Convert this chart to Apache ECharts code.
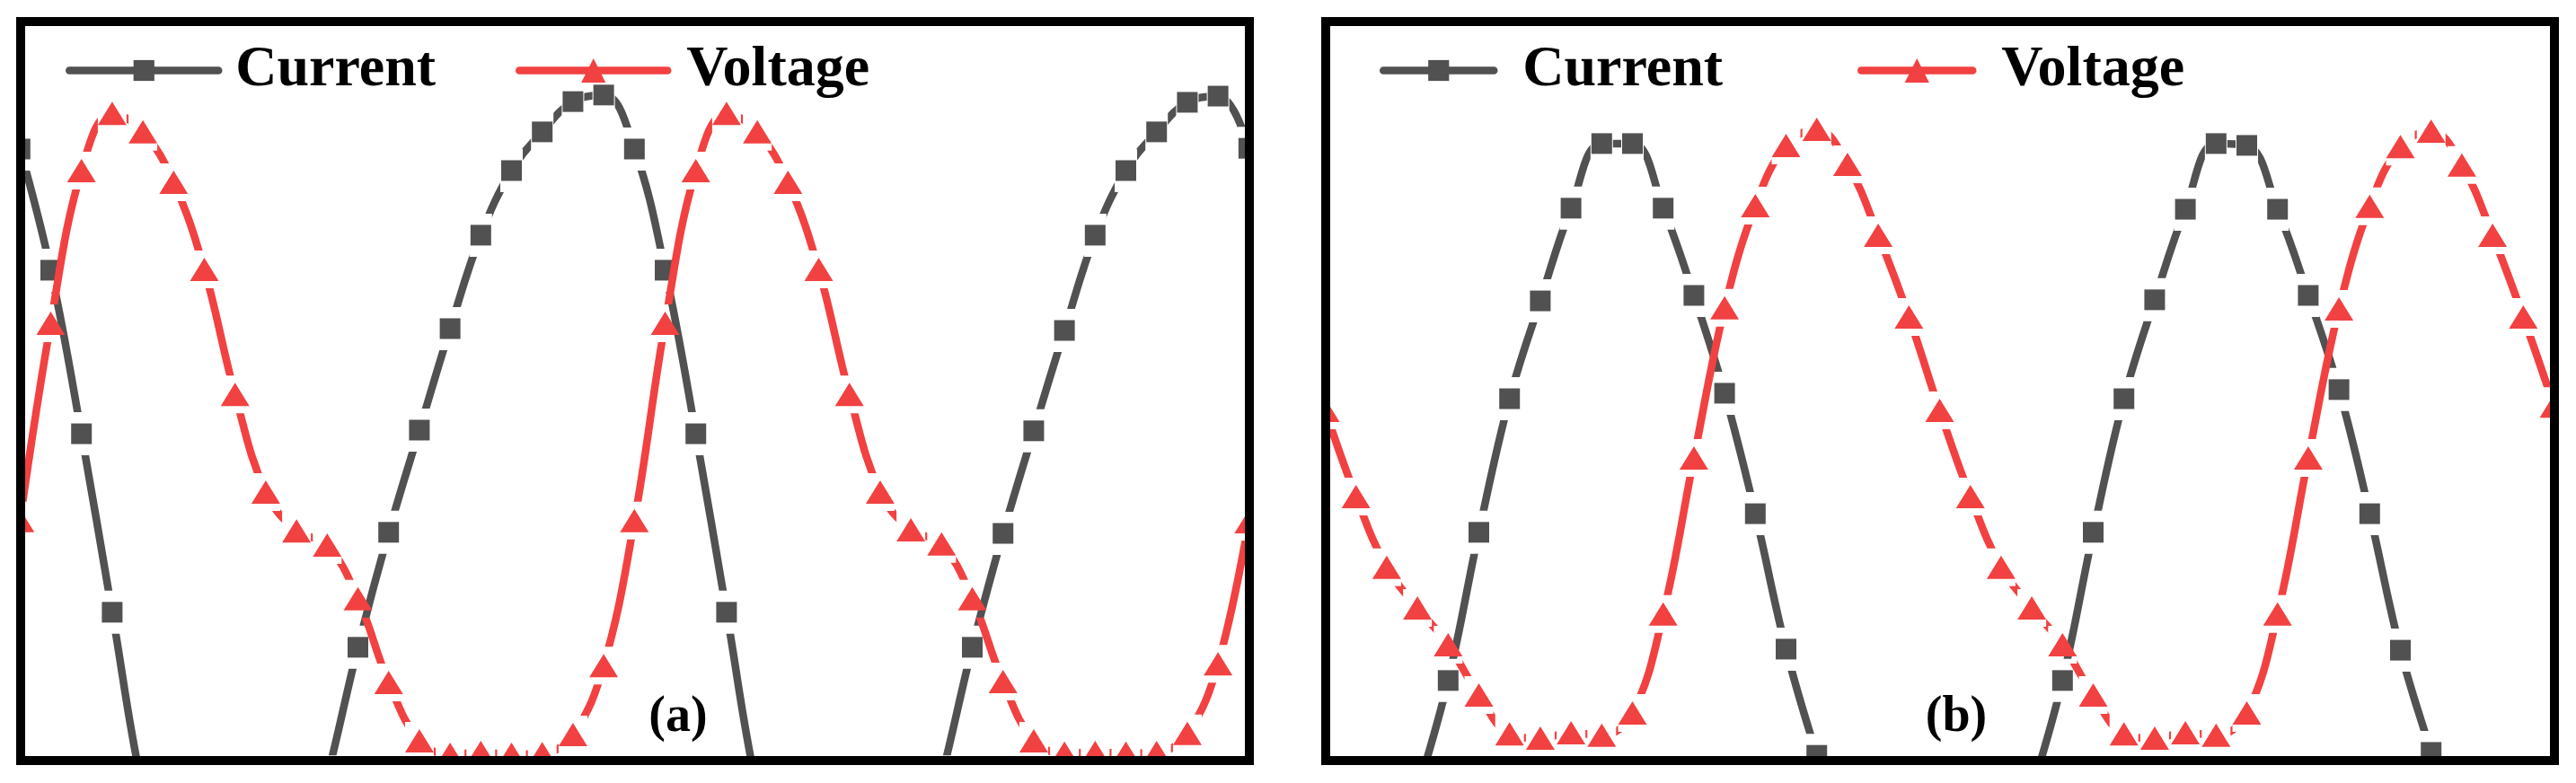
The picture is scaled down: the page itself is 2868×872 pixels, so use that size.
<!DOCTYPE html>
<html>
<head>
<meta charset="utf-8">
<title>Current / Voltage</title>
<script src="https://cdn.jsdelivr.net/npm/echarts@6/dist/echarts.min.js"></script>
<style>
html, body { margin: 0; padding: 0; background: #fff; }
#chart { width: 2868px; height: 872px; }
</style>
</head>
<body>
<div id="chart"></div>
<script>
// sample index along the time axis (20 samples per period)
var samples = [0, 1, 2, 3, 4, 5, 6, 7, 8, 9, 10, 11, 12, 13, 14, 15, 16, 17, 18, 19,
	20, 21, 22, 23, 24, 25, 26, 27, 28, 29, 30, 31, 32, 33, 34, 35, 36, 37, 38, 39, 40];

// panel (a), normalised amplitude (frame top = 1, frame bottom = -1)
var currentA = [0.663, 0.331, -0.117, -0.606, -1.094, -1.389, -1.536, -1.585, -1.536, -1.364,
	-1.057, -0.702, -0.387, -0.107, 0.171, 0.427, 0.604, 0.710, 0.793, 0.811,
	0.663, 0.331, -0.117, -0.606, -1.094, -1.389, -1.536, -1.585, -1.536, -1.364,
	-1.057, -0.702, -0.390, -0.109, 0.166, 0.427, 0.604, 0.710, 0.791, 0.808, 0.665];
var voltageA = [-0.355, 0.186, 0.604, 0.761, 0.710, 0.572, 0.333, -0.009, -0.277, -0.383,
	-0.422, -0.569, -0.798, -0.958, -0.995, -0.990, -0.995, -0.993, -0.941, -0.752,
	-0.355, 0.186, 0.604, 0.761, 0.710, 0.572, 0.333, -0.009, -0.277, -0.380,
	-0.419, -0.569, -0.796, -0.958, -0.992, -0.990, -0.992, -0.990, -0.938, -0.747, -0.358];

// panel (b)
var currentB = [-1.499, -1.462, -1.352, -1.094, -0.793, -0.387, -0.021, 0.247, 0.501, 0.678,
	0.678, 0.501, 0.262, -0.006, -0.336, -0.707, -0.998, -1.266, -1.413, -1.487,
	-1.499, -1.462, -1.352, -1.094, -0.793, -0.387, -0.021, 0.250, 0.498, 0.678,
	0.673, 0.498, 0.262, 0.004, -0.336, -0.710, -0.990, -1.266, -1.413, -1.487, -1.499];
var voltageB = [-0.053, -0.289, -0.483, -0.594, -0.695, -0.833, -0.939, -0.951, -0.936, -0.943,
	-0.882, -0.611, -0.183, 0.228, 0.508, 0.673, 0.717, 0.621, 0.427, 0.203,
	-0.053, -0.289, -0.483, -0.594, -0.695, -0.833, -0.939, -0.951, -0.936, -0.943,
	-0.882, -0.611, -0.183, 0.225, 0.506, 0.670, 0.712, 0.619, 0.427, 0.203, -0.041];

var names = ["Current", "Voltage"];
var panelLabels = ["(a)", "(b)"];

var GREY = "#515151", RED = "#f24141";
var FONT = '"Liberation Serif", "Times New Roman", serif';
var LINE_W = 8.5;

function pairs(vals) {
	return samples.map(function(x, i) {
		return [ x, vals[i] ];
	});
}

// one curve = smooth line + white gaps round the marks + the marks
function curve(name, vals, g, color, symbol, size, gap, layer) {
	var data = pairs(vals);
	return [ {
		name : name,
		type : "line",
		xAxisIndex : g,
		yAxisIndex : g,
		data : data,
		smooth : 0.4,
		symbol : symbol,
		symbolSize : size,
		showSymbol : false,
		lineStyle : { color : color, width : LINE_W, cap : "round" },
		itemStyle : { color : color },
		zlevel : layer,
		z : 2,
		silent : true
	}, {
		name : name + " gap",
		type : "scatter",
		xAxisIndex : g,
		yAxisIndex : g,
		data : data,
		symbol : "rect",
		symbolSize : gap,
		itemStyle : { color : "#000", opacity : 1 },
		blendMode : "destination-out",
		zlevel : layer,
		z : 3,
		silent : true
	}, {
		name : name + " mark",
		type : "scatter",
		xAxisIndex : g,
		yAxisIndex : g,
		data : data,
		symbol : symbol,
		symbolSize : size,
		itemStyle : { color : color, opacity : 1 },
		zlevel : layer,
		z : 4,
		silent : true
	} ];
}

function legendItem(name, left, width, height, pad) {
	return {
		data : [ name ],
		left : left,
		top : 46.5,
		padding : 0,
		itemWidth : width,
		itemHeight : height,
		selectedMode : false,
		zlevel : 3,
		z : 5,
		lineStyle : { width : LINE_W, cap : "round" },
		textStyle : {
			fontFamily : FONT,
			fontWeight : "bold",
			fontSize : 64,
			color : "#000",
			padding : [ 0, 0, 0, pad ]
		}
	};
}

var white = { fill : "#fff" };
var frame = { fill : null, stroke : "#000", lineWidth : 10 };

var e = echarts.init(document.getElementById("chart"));
e.setOption({
	animation : false,
	backgroundColor : "#fff",
	grid : [
		{ left : 0, top : 0, width : 1430, height : 872, outerBoundsMode : "none" },
		{ left : 1436, top : 0, width : 1432, height : 872, outerBoundsMode : "none" }
	],
	xAxis : [
		{ type : "value", gridIndex : 0, min : -0.652, max : 41.16, show : false },
		{ type : "value", gridIndex : 1, min : -1.155, max : 40.716, show : false }
	],
	yAxis : [
		{ type : "value", gridIndex : 0, min : -1.0738, max : 1.0713, show : false },
		{ type : "value", gridIndex : 1, min : -1.0738, max : 1.0713, show : false }
	],
	legend : [
		legendItem(names[0], 73, 166, 29, 14),
		legendItem(names[1], 574, 165, 34, 16),
		legendItem(names[0], 1536, 123, 29, 27),
		legendItem(names[1], 2068, 124, 34, 27)
	],
	graphic : { elements : [
		{ type : "rect", shape : { x : 0, y : 0, width : 2868, height : 29 }, style : white, zlevel : 3, z : 1 },
		{ type : "rect", shape : { x : 0, y : 842, width : 2868, height : 30 }, style : white, zlevel : 3, z : 1 },
		{ type : "rect", shape : { x : 0, y : 0, width : 28, height : 872 }, style : white, zlevel : 3, z : 1 },
		{ type : "rect", shape : { x : 1386, y : 0, width : 95, height : 872 }, style : white, zlevel : 3, z : 1 },
		{ type : "rect", shape : { x : 2839, y : 0, width : 29, height : 872 }, style : white, zlevel : 3, z : 1 },
		{ type : "rect", shape : { x : 23, y : 24, width : 1368, height : 823 }, style : frame, zlevel : 3, z : 2 },
		{ type : "rect", shape : { x : 1476, y : 24, width : 1368, height : 823 }, style : frame, zlevel : 3, z : 2 },
		{ type : "text", x : 755, y : 800, style : { text : panelLabels[0], font : "bold 56px " + FONT, fill : "#000", align : "center", verticalAlign : "middle" }, zlevel : 3, z : 3 },
		{ type : "text", x : 2178, y : 800, style : { text : panelLabels[1], font : "bold 56px " + FONT, fill : "#000", align : "center", verticalAlign : "middle" }, zlevel : 3, z : 3 }
	] },
	series : [].concat(
		curve(names[0], currentA, 0, GREY, "rect", 23, [ 25, 48 ], 1),
		curve(names[1], voltageA, 0, RED, "triangle", [ 32, 26 ], [ 32, 42 ], 2),
		curve(names[0], currentB, 1, GREY, "rect", 23, [ 25, 48 ], 1),
		curve(names[1], voltageB, 1, RED, "triangle", [ 32, 26 ], [ 32, 42 ], 2)
	)
});
window.addEventListener("resize", e.resize);
</script>
</body>
</html>
